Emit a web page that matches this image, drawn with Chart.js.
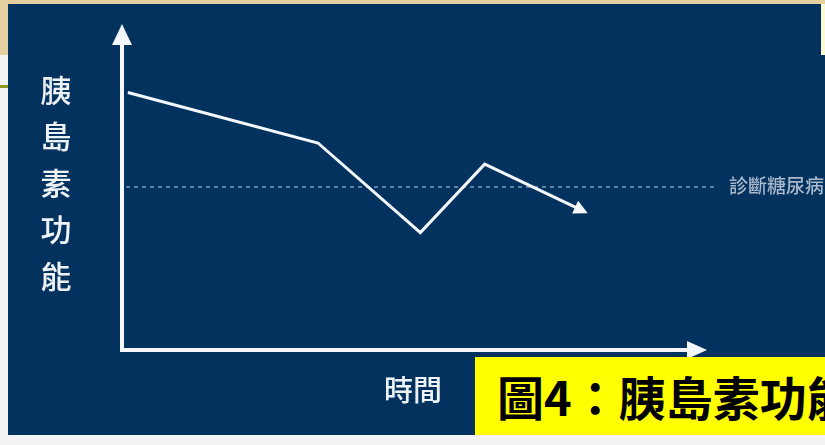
<!DOCTYPE html>
<html>
<head>
<meta charset="utf-8">
<script src="https://cdn.jsdelivr.net/npm/chart.js@4.4.1/dist/chart.umd.min.js"></script>
<style>
  body { margin: 0; width: 825px; height: 445px; background: #f3f3f3; position: relative; overflow: hidden; }
  .beigeTop { position: absolute; left: 0; top: 0; width: 825px; height: 4px; background: #e6cf9e; }
  .beigeLeft { position: absolute; left: 0; top: 0; width: 8px; height: 55px; background: #e6cf9e; }
  .greenLine { position: absolute; left: 0; top: 85px; width: 8px; height: 3px; background: #8c9a22; }
  .panel { position: absolute; left: 8px; top: 4px; width: 817px; height: 431px; background: #03325f; }
  .cream { position: absolute; left: 821px; top: 4px; width: 4px; height: 51px; background: #fffbd2; }
  #wrap { position: absolute; left: 0; top: 0; width: 825px; height: 445px; }
  .caption { position: absolute; left: 475px; top: 357px; width: 350px; height: 78px; background: #ffff00;
    color: #000; font-family: "Noto Sans CJK TC", sans-serif; font-weight: 700; font-size: 47px;
    line-height: 78px; padding-left: 22px; box-sizing: border-box; white-space: nowrap; overflow: hidden; }
</style>
</head>
<body>
<div class="beigeTop"></div>
<div class="beigeLeft"></div>
<div class="greenLine"></div>
<div class="panel"></div>
<div class="cream"></div>
<div id="wrap"><canvas id="chart" width="825" height="445"></canvas></div>
<div class="caption">圖4：胰島素功能</div>
<script>
// time (x) and insulin function (y)
let timeValues = [1, 33.5, 51, 62, 79];
let insulinValues = [79, 63.5, 36, 57, 42.5];
let diagnosisLevel = 50;
let yTitle = ["胰", "島", "素", "功", "能"];
let xTitle = "時間";
let levelLabel = "診斷糖尿病";

const ctx = document.getElementById("chart");

const decorations = {
  id: "decorations",
  beforeDatasetsDraw(chart) {
    let c = chart.ctx;
    let area = chart.chartArea;
    let x = chart.scales.x;
    let y = chart.scales.y;
    c.save();
    // dashed diagnosis line
    let ly = y.getPixelForValue(diagnosisLevel);
    c.strokeStyle = "#7f9cba";
    c.lineWidth = 1.5;
    c.setLineDash([4, 4]);
    c.beginPath();
    c.moveTo(area.left + 4, ly);
    c.lineTo(area.right + 8, ly);
    c.stroke();
    c.setLineDash([]);
    c.fillStyle = "#a9b9cb";
    c.font = "500 19px 'Noto Sans CJK TC'";
    c.textBaseline = "middle";
    c.textAlign = "left";
    c.fillText(levelLabel, 729, ly - 1);

    // axes with arrows
    c.strokeStyle = "#f4f8fc";
    c.fillStyle = "#f4f8fc";
    c.lineWidth = 4;
    c.beginPath();
    c.moveTo(area.left, area.top + 18);
    c.lineTo(area.left, area.bottom);
    c.lineTo(area.right - 18, area.bottom);
    c.stroke();
    c.beginPath();
    c.moveTo(area.left, area.top);
    c.lineTo(area.left - 10, area.top + 21);
    c.lineTo(area.left + 10, area.top + 21);
    c.closePath();
    c.fill();
    c.beginPath();
    c.moveTo(area.right, area.bottom);
    c.lineTo(area.right - 20, area.bottom - 9);
    c.lineTo(area.right - 20, area.bottom + 9);
    c.closePath();
    c.fill();

    // axis titles
    c.fillStyle = "#eef3f8";
    c.font = "500 31px 'Noto Sans CJK TC'";
    c.textAlign = "center";
    yTitle.forEach((ch, i) => {
      c.fillText(ch, 56, 90 + i * 46.5);
    });
    c.font = "500 29px 'Noto Sans CJK TC'";
    c.fillText(xTitle, 413, 390);
    c.restore();
  },
  afterDatasetsDraw(chart) {
    let c = chart.ctx;
    let pts = chart.getDatasetMeta(0).data;
    let a = pts[pts.length - 2];
    let b = pts[pts.length - 1];
    let ang = Math.atan2(b.y - a.y, b.x - a.x);
    c.save();
    c.translate(b.x, b.y);
    c.rotate(ang);
    c.fillStyle = "#f4f8fc";
    c.beginPath();
    c.moveTo(4, 0);
    c.lineTo(-10, -7);
    c.lineTo(-10, 7);
    c.closePath();
    c.fill();
    c.restore();
  }
};

let myChart = new Chart(ctx, {
  type: "line",
  data: {
    datasets: [
      {
        data: timeValues.map((t, i) => ({ x: t, y: insulinValues[i] })),
        borderColor: "#f4f8fc",
        borderWidth: 3,
        pointRadius: 0,
        tension: 0,
        fill: false,
      },
    ],
  },
  options: {
    responsive: false,
    animation: false,
    layout: {
      padding: { left: 122, right: 118, top: 24, bottom: 95 },
    },
    scales: {
      x: { type: "linear", min: 0, max: 100, display: false },
      y: { min: 0, max: 100, display: false },
    },
    plugins: {
      legend: { display: false },
      tooltip: { enabled: false },
    },
  },
  plugins: [decorations],
});
</script>
</body>
</html>
